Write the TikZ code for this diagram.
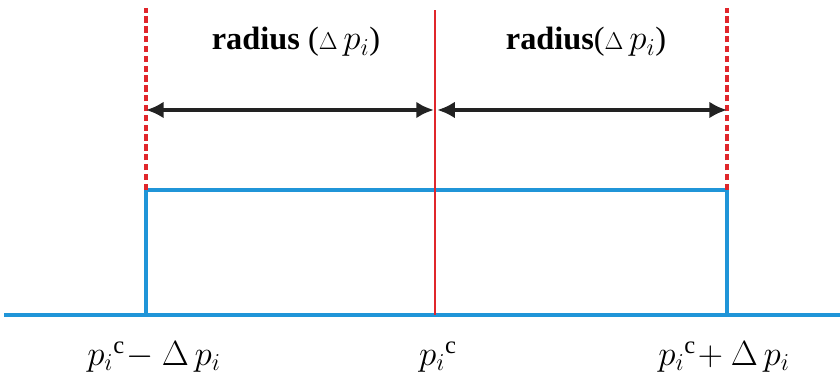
\documentclass[tikz,border=0pt]{standalone}
\usepackage{fontspec}
\setmainfont{Liberation Serif}
\usepackage{xcolor}
\definecolor{axisBlue}{HTML}{2095D8}
\definecolor{centerRed}{HTML}{E0262B}
\definecolor{arrowDark}{HTML}{222222}
\usepackage{tikz}
\usetikzlibrary{arrows.meta}

\begin{document}
\begin{tikzpicture}[every node/.style={font=\fontsize{23}{27}\selectfont}]
  \useasboundingbox (0,0) rectangle (21,9.625);

  % Points on the axis
  \coordinate (axisL) at (0.1,1.75);
  \coordinate (axisR) at (21,1.75);
  \coordinate (lo) at (3.65,1.75);
  \coordinate (mid) at (10.875,1.75);
  \coordinate (hi) at (18.175,1.75);
  \coordinate (loTop) at (3.65,4.875);
  \coordinate (hiTop) at (18.175,4.875);
  \coordinate (loEnd) at (3.65,9.425);
  \coordinate (midEnd) at (10.875,9.375);
  \coordinate (hiEnd) at (18.175,9.425);

  % Box and axis
  \draw[axisBlue, line width=2.2pt] (axisL) -- (axisR);
  \draw[axisBlue, line width=2.2pt] (lo) -- (loTop) -- (hiTop) -- (hi);

  % Bounds and centre
  \draw[centerRed, line width=2.2pt, dash pattern=on 4.5pt off 2.5pt] (loTop) -- (loEnd);
  \draw[centerRed, line width=2.2pt, dash pattern=on 4.5pt off 2.5pt] (hiTop) -- (hiEnd);
  \draw[centerRed, line width=1.6pt] (mid) -- (midEnd);

  % Radius arrows
  \coordinate (arrL) at (3.65,6.875);
  \coordinate (arrM) at (10.875,6.875);
  \coordinate (arrR) at (18.175,6.875);
  \draw[{Latex[length=4.4mm,width=4.2mm]}-{Latex[length=4.4mm,width=4.2mm]}, arrowDark, line width=2.6pt]
        (arrL) -- ([xshift=-0.8pt]arrM);
  \draw[{Latex[length=4.4mm,width=4.2mm]}-{Latex[length=4.4mm,width=4.2mm]}, arrowDark, line width=2.6pt]
        ([xshift=1.6pt]arrM) -- (arrR);

  \node (radiusL) at (7.4,8.575) {\textbf{radius} (${\scriptstyle\Delta}\,p_{i}$)};
  \node (radiusR) at (14.65,8.575) {\textbf{radius}(${\scriptstyle\Delta}\,p_{i}$)};

  % Axis labels
  \node[font=\fontsize{25}{30}\selectfont] (loLabel) at (3.85,0.7) {$p_i{}^{\mathrm{c}}\!-\Delta\, p_i$};
  \node[font=\fontsize{25}{30}\selectfont] (midLabel) at (10.95,0.7) {$p_i{}^{\mathrm{c}}$};
  \node[font=\fontsize{25}{30}\selectfont] (hiLabel) at (18.1,0.7) {$p_i{}^{\mathrm{c}}\!+\Delta\, p_i$};
\end{tikzpicture}
\end{document}
